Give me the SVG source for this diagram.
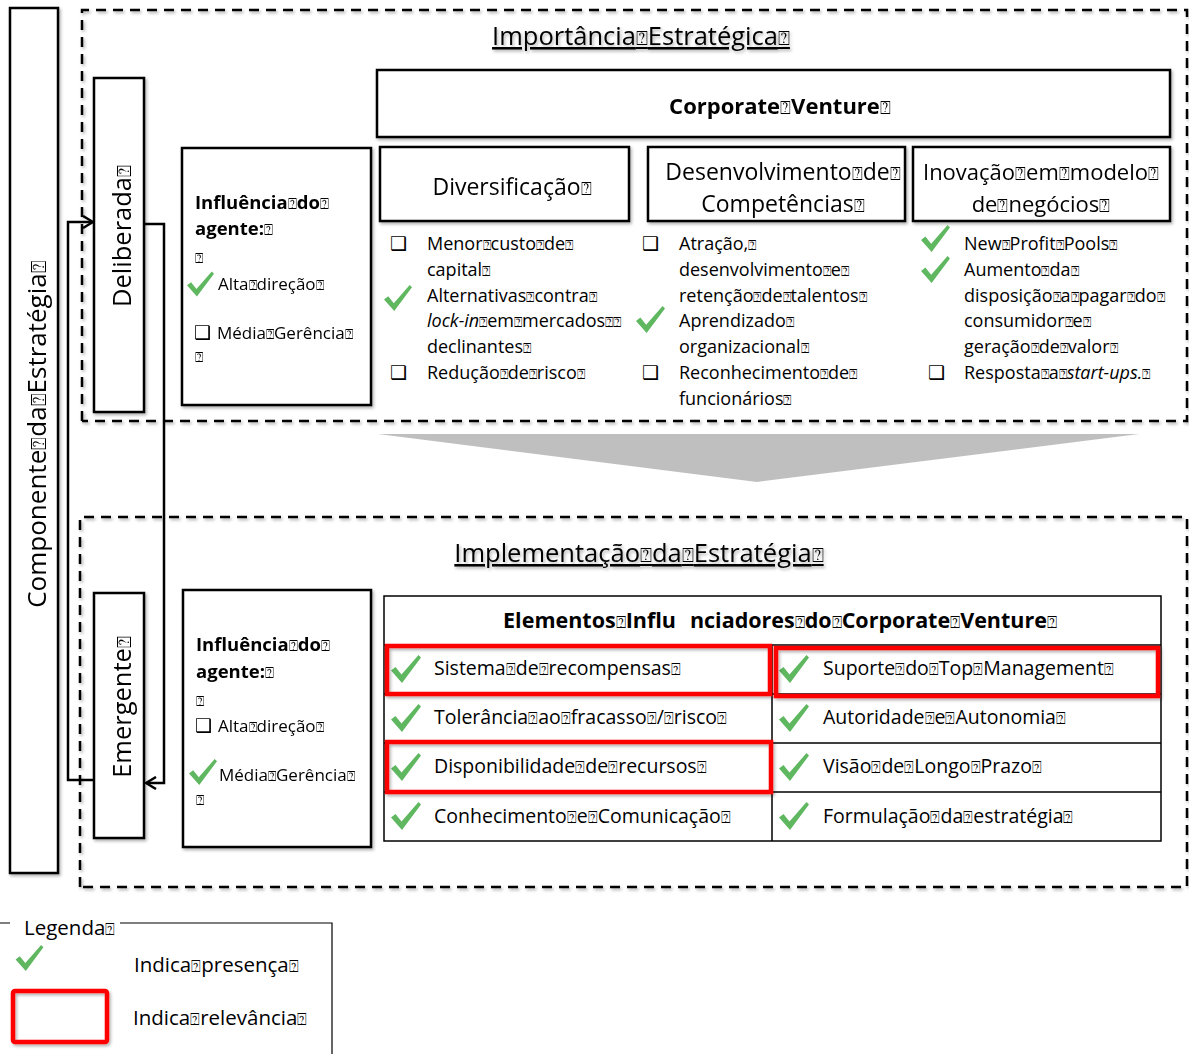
<svg xmlns="http://www.w3.org/2000/svg" width="1189" height="1054" viewBox="0 0 1189 1054">
  <style>
    .t { font-family: "Open Sans", "DejaVu Sans", sans-serif; fill: #000; }
    .b { font-weight: bold; }
    .i { font-style: italic; }
    .q { font-family: "DejaVu Sans", sans-serif; font-size: 0.8em; font-weight: normal; font-style: normal; }
    .cb { font-family: "DejaVu Sans", sans-serif; font-size: 19px; font-weight: bold; }
    .box { fill: #fff; stroke: #000; stroke-width: 2.5; }
    .dash { fill: none; stroke: #000; stroke-width: 2.5; stroke-dasharray: 10 7; }
    .grid { fill: none; stroke: #000; stroke-width: 1.5; }
    .red { fill: none; stroke: #ff0000; stroke-width: 4.5; }
    .conn { fill: none; stroke: #000; stroke-width: 2.5; }
    .l18 { font-size: 18px; }
    .l19 { font-size: 19.5px; }
    .u { text-decoration: underline; }
  </style>
  <defs>
    <filter id="sh" x="-10%" y="-10%" width="130%" height="130%">
      <feDropShadow dx="1.5" dy="2" stdDeviation="1.4" flood-color="#000" flood-opacity="0.3"/>
    </filter>
    <symbol id="chk" viewBox="0 0 30 28">
      <path d="M0,15.5 L4.5,12 L10.5,19.5 L27.5,0 L30,2.5 L11,28 Z" fill="#5fb760"/>
    </symbol>
    <marker id="arr" viewBox="0 0 12 14" refX="11" refY="7" markerWidth="12" markerHeight="14" markerUnits="userSpaceOnUse" orient="auto">
      <path d="M1,1 L11,7 L1,13" fill="none" stroke="#000" stroke-width="2.5"/>
    </marker>
  </defs>

  <rect width="1189" height="1054" fill="#fff"/>

  <!-- outer strategy component column -->
  <g id="componente" filter="url(#sh)">
    <rect class="box" x="10" y="8" width="48" height="865"/>
    <text class="t" font-size="26" text-anchor="middle" transform="translate(46,434) rotate(-90)">Componente<tspan class="q">⍰</tspan>da<tspan class="q">⍰</tspan>Estratégia<tspan class="q">⍰</tspan></text>
  </g>

  <!-- strategic importance region -->
  <g id="importancia" filter="url(#sh)">
    <path class="dash" d="M82,421 V10 H1187 V421 H82"/>
    <text class="t u" font-size="25.5" x="641" y="45" text-anchor="middle">Importância<tspan class="q">⍰</tspan>Estratégica<tspan class="q">⍰</tspan></text>
  </g>

  <!-- implementation region -->
  <g id="implementacao" filter="url(#sh)">
    <path class="dash" d="M80,887 V517 H1187 V887 H80"/>
    <text class="t u" font-size="25.5" x="639" y="562" text-anchor="middle">Implementação<tspan class="q">⍰</tspan>da<tspan class="q">⍰</tspan>Estratégia<tspan class="q">⍰</tspan></text>
  </g>

  <!-- transition arrow -->
  <g id="seta">
    <polygon points="378,434 1139,434 757,482" fill="#bfbfbf"/>
  </g>

  <g id="deliberada" filter="url(#sh)">
    <rect class="box" x="94" y="78" width="50" height="334"/>
    <text class="t" font-size="25.5" text-anchor="middle" transform="translate(131,236) rotate(-90)">Deliberada<tspan class="q">⍰</tspan></text>
  </g>

  <g id="emergente" filter="url(#sh)">
    <rect class="box" x="94" y="593" width="50" height="245"/>
    <text class="t" font-size="25.5" text-anchor="middle" transform="translate(131,707) rotate(-90)">Emergente<tspan class="q">⍰</tspan></text>
  </g>

  <!-- connectors -->
  <g id="connectors">
    <path class="conn" d="M144,224 H164 V783 H146" marker-end="url(#arr)"/>
    <path class="conn" d="M94,780 H68 V222 H93" marker-end="url(#arr)"/>
  </g>

  <g id="influencia-top" filter="url(#sh)">
    <rect class="box" x="182" y="148" width="189" height="257"/>
    <text class="t b" font-size="18.5" x="195" y="209">Influência<tspan class="q">⍰</tspan>do<tspan class="q">⍰</tspan></text>
    <text class="t b" font-size="18.5" x="195" y="235">agente:<tspan class="q">⍰</tspan></text>
    <text class="t l18" x="195" y="263"><tspan class="q">⍰</tspan></text>
    <use href="#chk" x="187" y="270" width="27" height="28"/>
    <text class="t" font-size="17" x="218" y="290">Alta<tspan class="q">⍰</tspan>direção<tspan class="q">⍰</tspan></text>
    <text class="cb" x="194" y="339">❑</text>
    <text class="t" font-size="17" x="217" y="339">Média<tspan class="q">⍰</tspan>Gerência<tspan class="q">⍰</tspan></text>
    <text class="t l18" x="195" y="362"><tspan class="q">⍰</tspan></text>
  </g>

  <g id="corporate-venture" filter="url(#sh)">
    <rect class="box" x="377" y="70" width="793" height="67"/>
    <text class="t b" font-size="22" x="780" y="114" text-anchor="middle">Corporate<tspan class="q">⍰</tspan>Venture<tspan class="q">⍰</tspan></text>
  </g>

  <g id="diversificacao" filter="url(#sh)">
    <rect class="box" x="380" y="147" width="249" height="74"/>
    <text class="t" font-size="23" x="512" y="195" text-anchor="middle">Diversificação<tspan class="q">⍰</tspan></text>
  </g>

  <g id="competencias" filter="url(#sh)">
    <rect class="box" x="648" y="147" width="257" height="74"/>
    <text class="t" font-size="23" x="783" y="180" text-anchor="middle">Desenvolvimento<tspan class="q">⍰</tspan>de<tspan class="q">⍰</tspan></text>
    <text class="t" font-size="23" x="783" y="212" text-anchor="middle">Competências<tspan class="q">⍰</tspan></text>
  </g>

  <g id="inovacao" filter="url(#sh)">
    <rect class="box" x="913" y="147" width="257" height="74"/>
    <text class="t" font-size="22" x="1041" y="180" text-anchor="middle">Inovação<tspan class="q">⍰</tspan>em<tspan class="q">⍰</tspan>modelo<tspan class="q">⍰</tspan></text>
    <text class="t" font-size="22" x="1041" y="212" text-anchor="middle">de<tspan class="q">⍰</tspan>negócios<tspan class="q">⍰</tspan></text>
  </g>

  <!-- motive lists -->
  <g id="lista-diversificacao">
    <text class="cb" x="390" y="250">❑</text>
    <text class="t l18" x="427" y="250">Menor<tspan class="q">⍰</tspan>custo<tspan class="q">⍰</tspan>de<tspan class="q">⍰</tspan></text>
    <text class="t l18" x="427" y="276">capital<tspan class="q">⍰</tspan></text>
    <use href="#chk" x="384" y="284" width="28" height="28"/>
    <text class="t l18" x="427" y="302">Alternativas<tspan class="q">⍰</tspan>contra<tspan class="q">⍰</tspan></text>
    <text class="t l18" x="427" y="327"><tspan class="i">lock-in</tspan><tspan class="q">⍰</tspan>em<tspan class="q">⍰</tspan>mercados<tspan class="q">⍰⍰</tspan></text>
    <text class="t l18" x="427" y="353">declinantes<tspan class="q">⍰</tspan></text>
    <text class="cb" x="390" y="379">❑</text>
    <text class="t l18" x="427" y="379">Redução<tspan class="q">⍰</tspan>de<tspan class="q">⍰</tspan>risco<tspan class="q">⍰</tspan></text>
  </g>

  <g id="lista-competencias">
    <text class="cb" x="642" y="250">❑</text>
    <text class="t l18" x="679" y="250">Atração,<tspan class="q">⍰</tspan></text>
    <text class="t l18" x="679" y="276">desenvolvimento<tspan class="q">⍰</tspan>e<tspan class="q">⍰</tspan></text>
    <text class="t l18" x="679" y="302">retenção<tspan class="q">⍰</tspan>de<tspan class="q">⍰</tspan>talentos<tspan class="q">⍰</tspan></text>
    <use href="#chk" x="636" y="305" width="29" height="29"/>
    <text class="t l18" x="679" y="327">Aprendizado<tspan class="q">⍰</tspan></text>
    <text class="t l18" x="679" y="353">organizacional<tspan class="q">⍰</tspan></text>
    <text class="cb" x="642" y="379">❑</text>
    <text class="t l18" x="679" y="379">Reconhecimento<tspan class="q">⍰</tspan>de<tspan class="q">⍰</tspan></text>
    <text class="t l18" x="679" y="405">funcionários<tspan class="q">⍰</tspan></text>
  </g>

  <g id="lista-inovacao">
    <use href="#chk" x="921" y="225" width="29" height="27"/>
    <text class="t l18" x="964" y="250">New<tspan class="q">⍰</tspan>Profit<tspan class="q">⍰</tspan>Pools<tspan class="q">⍰</tspan></text>
    <use href="#chk" x="921" y="256" width="29" height="27"/>
    <text class="t l18" x="964" y="276">Aumento<tspan class="q">⍰</tspan>da<tspan class="q">⍰</tspan></text>
    <text class="t l18" x="964" y="302">disposição<tspan class="q">⍰</tspan>a<tspan class="q">⍰</tspan>pagar<tspan class="q">⍰</tspan>do<tspan class="q">⍰</tspan></text>
    <text class="t l18" x="964" y="327">consumidor<tspan class="q">⍰</tspan>e<tspan class="q">⍰</tspan></text>
    <text class="t l18" x="964" y="353">geração<tspan class="q">⍰</tspan>de<tspan class="q">⍰</tspan>valor<tspan class="q">⍰</tspan></text>
    <text class="cb" x="928" y="379">❑</text>
    <text class="t l18" x="964" y="379">Resposta<tspan class="q">⍰</tspan>a<tspan class="q">⍰</tspan><tspan class="i">start-ups.</tspan><tspan class="q">⍰</tspan></text>
  </g>

  <g id="influencia-bottom" filter="url(#sh)">
    <rect class="box" x="183" y="590" width="188" height="257"/>
    <text class="t b" font-size="18.5" x="196" y="651">Influência<tspan class="q">⍰</tspan>do<tspan class="q">⍰</tspan></text>
    <text class="t b" font-size="18.5" x="196" y="678">agente:<tspan class="q">⍰</tspan></text>
    <text class="t l18" x="196" y="706"><tspan class="q">⍰</tspan></text>
    <text class="cb" x="195" y="732">❑</text>
    <text class="t" font-size="17" x="218" y="732">Alta<tspan class="q">⍰</tspan>direção<tspan class="q">⍰</tspan></text>
    <use href="#chk" x="189" y="758" width="28" height="28"/>
    <text class="t" font-size="17" x="219" y="781">Média<tspan class="q">⍰</tspan>Gerência<tspan class="q">⍰</tspan></text>
    <text class="t l18" x="196" y="805"><tspan class="q">⍰</tspan></text>
  </g>

  <!-- influencing elements table -->
  <g id="elementos">
    <rect class="grid" x="384" y="596" width="777" height="245" fill="#fff"/>
    <path class="grid" d="M384,645 H1161 M384,694 H1161 M384,743 H1161 M384,792 H1161 M772,645 V841"/>
    <text class="t b" font-size="21.5" x="780" y="628" text-anchor="middle">Elementos<tspan class="q">⍰</tspan>Influ<tspan dx="14">nciadores</tspan><tspan class="q">⍰</tspan>do<tspan class="q">⍰</tspan>Corporate<tspan class="q">⍰</tspan>Venture<tspan class="q">⍰</tspan></text>

    <use href="#chk" x="391" y="655" width="30" height="28"/>
    <text class="t l19" x="434" y="675">Sistema<tspan class="q">⍰</tspan>de<tspan class="q">⍰</tspan>recompensas<tspan class="q">⍰</tspan></text>
    <use href="#chk" x="391" y="704" width="30" height="28"/>
    <text class="t l19" x="434" y="724">Tolerância<tspan class="q">⍰</tspan>ao<tspan class="q">⍰</tspan>fracasso<tspan class="q">⍰</tspan>/<tspan class="q">⍰</tspan>risco<tspan class="q">⍰</tspan></text>
    <use href="#chk" x="391" y="753" width="30" height="28"/>
    <text class="t l19" x="434" y="773">Disponibilidade<tspan class="q">⍰</tspan>de<tspan class="q">⍰</tspan>recursos<tspan class="q">⍰</tspan></text>
    <use href="#chk" x="391" y="802" width="30" height="28"/>
    <text class="t l19" x="434" y="823">Conhecimento<tspan class="q">⍰</tspan>e<tspan class="q">⍰</tspan>Comunicação<tspan class="q">⍰</tspan></text>

    <use href="#chk" x="779" y="655" width="30" height="28"/>
    <text class="t l19" x="823" y="675">Suporte<tspan class="q">⍰</tspan>do<tspan class="q">⍰</tspan>Top<tspan class="q">⍰</tspan>Management<tspan class="q">⍰</tspan></text>
    <use href="#chk" x="779" y="704" width="30" height="28"/>
    <text class="t l19" x="823" y="724">Autoridade<tspan class="q">⍰</tspan>e<tspan class="q">⍰</tspan>Autonomia<tspan class="q">⍰</tspan></text>
    <use href="#chk" x="779" y="753" width="30" height="28"/>
    <text class="t l19" x="823" y="773">Visão<tspan class="q">⍰</tspan>de<tspan class="q">⍰</tspan>Longo<tspan class="q">⍰</tspan>Prazo<tspan class="q">⍰</tspan></text>
    <use href="#chk" x="779" y="802" width="30" height="28"/>
    <text class="t l19" x="823" y="823">Formulação<tspan class="q">⍰</tspan>da<tspan class="q">⍰</tspan>estratégia<tspan class="q">⍰</tspan></text>

    <g filter="url(#sh)">
      <rect class="red" x="387" y="646" width="383" height="48"/>
      <rect class="red" x="776" y="648" width="382" height="48"/>
      <rect class="red" x="387" y="742" width="384" height="50"/>
    </g>
  </g>

  <!-- legend -->
  <g id="legenda">
    <path d="M0,923 H10 M120,923 H332 V1054" fill="none" stroke="#000" stroke-width="1.2"/>
    <text class="t" font-size="20.5" x="24" y="935">Legenda<tspan class="q">⍰</tspan></text>
    <use href="#chk" x="15" y="945" width="29" height="26"/>
    <text class="t" font-size="20.5" x="134" y="972">Indica<tspan class="q">⍰</tspan>presença<tspan class="q">⍰</tspan></text>
    <rect x="13" y="991" width="94" height="51" rx="2" fill="none" stroke="#ff0000" stroke-width="4.5" filter="url(#sh)"/>
    <text class="t" font-size="20.5" x="133" y="1025">Indica<tspan class="q">⍰</tspan>relevância<tspan class="q">⍰</tspan></text>
  </g>
</svg>
